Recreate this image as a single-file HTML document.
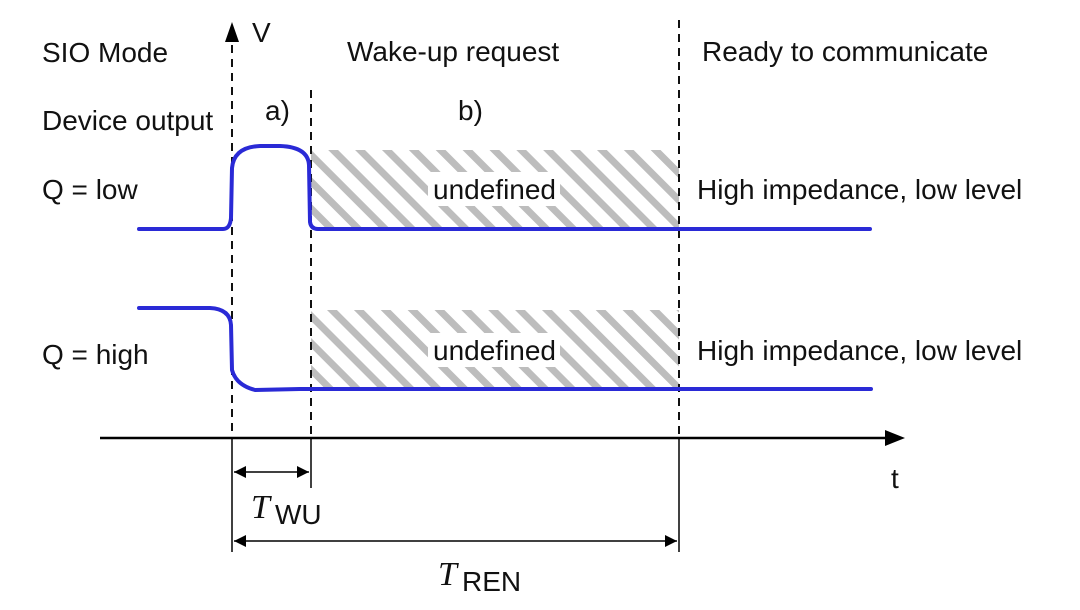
<!DOCTYPE html>
<html><head><meta charset="utf-8"><style>
html,body{margin:0;padding:0;background:#fff;}
svg text{font-family:"Liberation Sans",sans-serif;font-size:28px;fill:#111;}
.it{font-family:"Liberation Serif",serif;font-style:italic;font-size:34px;}
</style></head><body>
<svg width="1080" height="605" viewBox="0 0 1080 605" xmlns="http://www.w3.org/2000/svg">
<defs>
<pattern id="h" patternUnits="userSpaceOnUse" width="19" height="19" patternTransform="rotate(45)">
<rect x="0" y="0" width="19" height="7" fill="#bdbdbd"/>
</pattern>
</defs>
<rect x="311" y="150" width="368" height="78" fill="url(#h)"/>
<rect x="311" y="310" width="368" height="78" fill="url(#h)"/>
<rect x="428" y="172" width="132" height="34" fill="#fff"/>
<rect x="428" y="333" width="132" height="34" fill="#fff"/>
<g stroke="#111" stroke-width="2" stroke-dasharray="8,6">
<line x1="232" y1="45" x2="232" y2="438"/>
<line x1="311" y1="90" x2="311" y2="438"/>
<line x1="679" y1="20" x2="679" y2="438"/>
</g>
<g stroke="#111" stroke-width="1.6">
<line x1="232" y1="438" x2="232" y2="552"/>
<line x1="311" y1="438" x2="311" y2="488"/>
<line x1="679" y1="438" x2="679" y2="552"/>
</g>
<path d="M225,42 L232,22 L239,42 z" fill="#000"/>
<line x1="100" y1="438" x2="890" y2="438" stroke="#000" stroke-width="2.5"/>
<path d="M885,430 L905,438 L885,446 z" fill="#000"/>
<line x1="234" y1="472" x2="309" y2="472" stroke="#000" stroke-width="1.6"/>
<path d="M234,472 L246,466 L246,478 z" fill="#000"/>
<path d="M309,472 L297,466 L297,478 z" fill="#000"/>
<line x1="234" y1="541" x2="677" y2="541" stroke="#000" stroke-width="1.6"/>
<path d="M234,541 L246,535 L246,547 z" fill="#000"/>
<path d="M677,541 L665,535 L665,547 z" fill="#000"/>
<g fill="none" stroke="#2a2ad6" stroke-width="4" stroke-linecap="round" stroke-linejoin="round">
<path d="M139,229 L223,229 Q230,229 231,218 L232,168 Q234,147 260,146 L280,146 Q308,147 309,165 L310,222 Q311,229 318,229 L870,229"/>
<path d="M139,308 L210,308 Q230,309 231,325 L232,370 Q236,385 255,390 L300,389 L871,389"/>
</g>
<text x="42" y="62">SIO Mode</text>
<text x="42" y="130">Device output</text>
<text x="42" y="199">Q = low</text>
<text x="42" y="364">Q = high</text>
<text x="252" y="42">V</text>
<text x="347" y="61">Wake-up request</text>
<text x="702" y="61">Ready to communicate</text>
<text x="265" y="120">a)</text>
<text x="458" y="120">b)</text>
<text x="433" y="199">undefined</text>
<text x="433" y="360">undefined</text>
<text x="697" y="199">High impedance, low level</text>
<text x="697" y="360">High impedance, low level</text>
<text x="891" y="488">t</text>
<text x="251" y="518" class="it">T</text><text x="275" y="524">WU</text>
<text x="438" y="585" class="it">T</text><text x="462" y="591">REN</text>
</svg>
</body></html>
